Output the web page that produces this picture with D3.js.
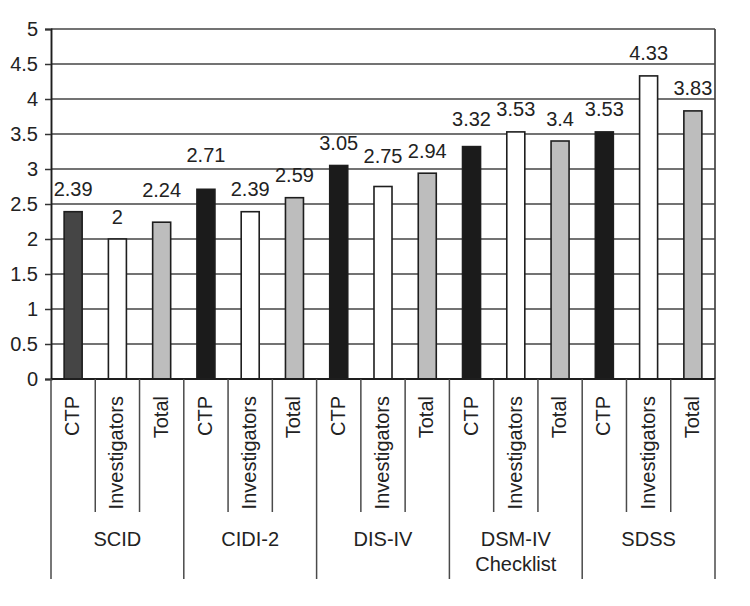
<!DOCTYPE html>
<html>
<head>
<meta charset="utf-8">
<script src="https://cdn.jsdelivr.net/npm/d3@7"></script>
<style>
  html, body { margin: 0; padding: 0; background: #fff; }
  svg { display: block; }
  text { font-family: "Liberation Sans", Arial, sans-serif; fill: #222; }
</style>
</head>
<body>
<svg id="chart" width="750" height="606"></svg>
<script>
// ---- data ----
const groups = ["SCID", "CIDI-2", "DIS-IV", "DSM-IV Checklist", "SDSS"];
const seriesNames = ["CTP", "Investigators", "Total"];
const ctpValues = [2.39, 2.71, 3.05, 3.32, 3.53];
const investigatorValues = [2, 2.39, 2.75, 3.53, 4.33];
const totalValues = [2.24, 2.59, 2.94, 3.4, 3.83];
const yTickValues = [0, 0.5, 1, 1.5, 2, 2.5, 3, 3.5, 4, 4.5, 5];

// ---- layout / style ----
const W = 750, H = 606;
const plot = { left: 51, right: 715, top: 29, bottom: 379 };
const FS = 20;
const fills = { "CTP": "#1b1b1b", "Investigators": "#ffffff", "Total": "#bdbdbd" };
const firstCtpFill = "#454545";
// extra lift (px) of a few value labels, as placed in the original
const labelLift = [[0, 0, 10], [12, 0, 0], [0, 8, 0], [5, 0, 0], [0, 0, 0]];

const valuesBySeries = [ctpValues, investigatorValues, totalValues];
const rows = [];
groups.forEach((g, gi) => {
  seriesNames.forEach((s, si) => {
    rows.push({ key: g + "|" + s, group: g, gi, series: s, si, value: valuesBySeries[si][gi] });
  });
});

const svg = d3.select("#chart");

const x = d3.scaleBand()
  .domain(rows.map(d => d.key))
  .range([plot.left, plot.right])
  .paddingInner(0.593)
  .paddingOuter(0.2965);
const step = x.step();

const y = d3.scaleLinear().domain([0, 5]).range([plot.bottom, plot.top]);

// gridlines
svg.append("g")
  .selectAll("line")
  .data(yTickValues.filter(v => v > 0))
  .join("line")
  .attr("x1", plot.left).attr("x2", plot.right)
  .attr("y1", d => y(d)).attr("y2", d => y(d))
  .attr("stroke", "#444").attr("stroke-width", 1.5);

// right border
svg.append("line")
  .attr("x1", plot.right).attr("x2", plot.right)
  .attr("y1", plot.top).attr("y2", plot.bottom)
  .attr("stroke", "#444").attr("stroke-width", 1.7);

// y axis
const yAxis = d3.axisLeft(y)
  .tickValues(yTickValues)
  .tickFormat(d3.format("~g"))
  .tickSize(6)
  .tickPadding(7);
const yg = svg.append("g")
  .attr("transform", `translate(${plot.left},0)`)
  .call(yAxis);
yg.select(".domain").attr("stroke", "#1e1e1e").attr("stroke-width", 1.9);
yg.selectAll(".tick line").attr("stroke", "#333").attr("stroke-width", 1.5);
yg.selectAll(".tick text")
  .attr("font-size", FS)
  .attr("fill", "#222")
  .attr("font-family", "'Liberation Sans', Arial, sans-serif");

// bars
svg.append("g")
  .selectAll("rect")
  .data(rows)
  .join("rect")
  .attr("x", d => x(d.key))
  .attr("width", x.bandwidth())
  .attr("y", d => y(d.value))
  .attr("height", d => y(0) - y(d.value))
  .attr("fill", d => (d.gi === 0 && d.si === 0) ? firstCtpFill : fills[d.series])
  .attr("stroke", "#1e1e1e")
  .attr("stroke-width", 1.6);

// value labels
svg.append("g")
  .selectAll("text")
  .data(rows)
  .join("text")
  .attr("x", d => x(d.key) + x.bandwidth() / 2)
  .attr("y", d => y(d.value) - 15.5 - labelLift[d.gi][d.si])
  .attr("text-anchor", "middle")
  .attr("font-size", FS)
  .text(d => d3.format("~g")(d.value));

// x axis baseline
svg.append("line")
  .attr("x1", plot.left).attr("x2", plot.right)
  .attr("y1", plot.bottom).attr("y2", plot.bottom)
  .attr("stroke", "#1e1e1e").attr("stroke-width", 1.9);

// category separators
const boundaries = d3.range(rows.length + 1);
svg.append("g")
  .selectAll("line")
  .data(boundaries)
  .join("line")
  .attr("x1", i => plot.left + i * step)
  .attr("x2", i => plot.left + i * step)
  .attr("y1", plot.bottom)
  .attr("y2", i => (i % 3 === 0) ? 579 : 512)
  .attr("stroke", "#4a4a4a")
  .attr("stroke-width", 1.5);

// series labels (rotated)
svg.append("g")
  .selectAll("text")
  .data(rows)
  .join("text")
  .attr("transform", d => `translate(${x(d.key) + x.bandwidth() / 2 + 6},396) rotate(-90)`)
  .attr("text-anchor", "end")
  .attr("font-size", FS)
  .text(d => d.series);

// group labels
const gl = svg.append("g")
  .selectAll("text")
  .data(groups)
  .join("text")
  .attr("x", (g, gi) => plot.left + (gi * 3 + 1.5) * step)
  .attr("y", 546)
  .attr("text-anchor", "middle")
  .attr("font-size", FS);
gl.each(function(g) {
  const words = g === "DSM-IV Checklist" ? ["DSM-IV", "Checklist"] : [g];
  const t = d3.select(this);
  const cx = t.attr("x");
  words.forEach((w, i) => {
    t.append("tspan").attr("x", cx).attr("dy", i === 0 ? 0 : 25).text(w);
  });
});
</script>
</body>
</html>
